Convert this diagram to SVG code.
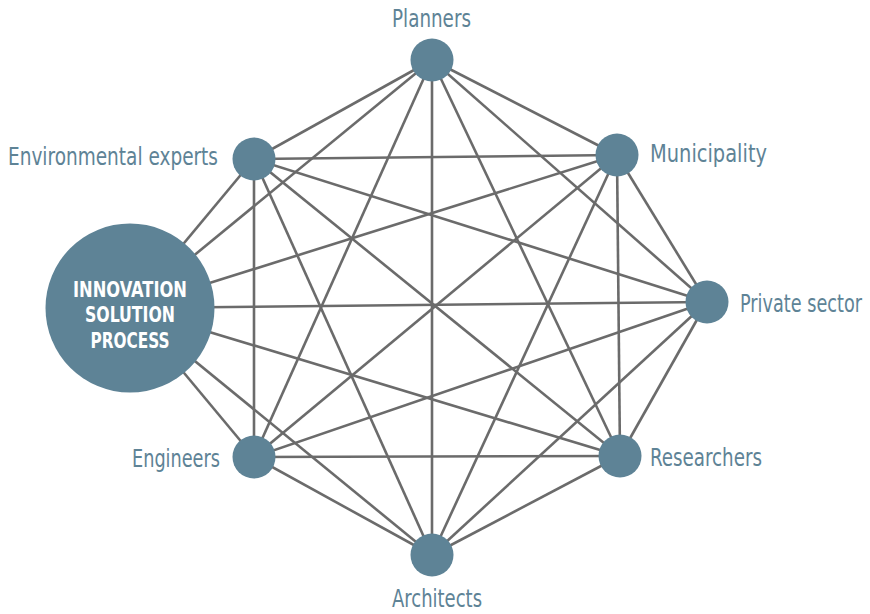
<svg xmlns="http://www.w3.org/2000/svg" width="870" height="614" viewBox="0 0 870 614">
<style>
.e{stroke:#6b6b6b;stroke-width:2.6;fill:none}
.n{fill:#5e8396}
.l{font-family:"DejaVu Sans Condensed","DejaVu Sans",sans-serif;font-stretch:condensed;font-size:24px;fill:#5e8396}
.c{font-family:"DejaVu Sans Condensed","DejaVu Sans",sans-serif;font-stretch:condensed;font-weight:bold;font-size:22px;fill:#ffffff;text-anchor:middle}
</style>
<rect width="870" height="614" fill="#ffffff"/>
<g id="connectors">
<line class="e" x1="130" y1="308" x2="432" y2="60"/>
<line class="e" x1="130" y1="308" x2="617" y2="155"/>
<line class="e" x1="130" y1="308" x2="707" y2="302"/>
<line class="e" x1="130" y1="308" x2="620" y2="456"/>
<line class="e" x1="130" y1="308" x2="432" y2="555"/>
<line class="e" x1="130" y1="308" x2="254" y2="457"/>
<line class="e" x1="130" y1="308" x2="254" y2="159"/>
<line class="e" x1="254" y1="159" x2="432" y2="60"/>
<line class="e" x1="254" y1="159" x2="617" y2="155"/>
<line class="e" x1="254" y1="159" x2="707" y2="302"/>
<line class="e" x1="254" y1="159" x2="620" y2="456"/>
<line class="e" x1="254" y1="159" x2="432" y2="555"/>
<line class="e" x1="254" y1="159" x2="254" y2="457"/>
<line class="e" x1="432" y1="60" x2="617" y2="155"/>
<line class="e" x1="432" y1="60" x2="707" y2="302"/>
<line class="e" x1="432" y1="60" x2="620" y2="456"/>
<line class="e" x1="432" y1="60" x2="432" y2="555"/>
<line class="e" x1="432" y1="60" x2="254" y2="457"/>
<line class="e" x1="617" y1="155" x2="707" y2="302"/>
<line class="e" x1="617" y1="155" x2="620" y2="456"/>
<line class="e" x1="617" y1="155" x2="432" y2="555"/>
<line class="e" x1="617" y1="155" x2="254" y2="457"/>
<line class="e" x1="707" y1="302" x2="620" y2="456"/>
<line class="e" x1="707" y1="302" x2="432" y2="555"/>
<line class="e" x1="707" y1="302" x2="254" y2="457"/>
<line class="e" x1="620" y1="456" x2="432" y2="555"/>
<line class="e" x1="620" y1="456" x2="254" y2="457"/>
<line class="e" x1="432" y1="555" x2="254" y2="457"/>
</g>
<g id="innovation">
<circle class="n" cx="130" cy="308" r="84.5"/>
<text class="c" x="130" y="297" textLength="114" lengthAdjust="spacingAndGlyphs">INNOVATION</text>
<text class="c" x="130" y="322" textLength="90" lengthAdjust="spacingAndGlyphs">SOLUTION</text>
<text class="c" x="130" y="348" textLength="79" lengthAdjust="spacingAndGlyphs">PROCESS</text>
</g>
<g id="planners">
<circle class="n" cx="432" cy="60" r="21.5"/>
<text class="l" x="392" y="27" textLength="79" lengthAdjust="spacingAndGlyphs">Planners</text>
</g>
<g id="municipality">
<circle class="n" cx="617" cy="155" r="21.5"/>
<text class="l" x="650" y="162" textLength="117" lengthAdjust="spacingAndGlyphs">Municipality</text>
</g>
<g id="private-sector">
<circle class="n" cx="707" cy="302" r="21.5"/>
<text class="l" transform="translate(740,312) scale(0.76,1)" x="0" y="0" textLength="160.5" lengthAdjust="spacingAndGlyphs">Private sector</text>
</g>
<g id="researchers">
<circle class="n" cx="620" cy="456" r="21.5"/>
<text class="l" x="650" y="466" textLength="112" lengthAdjust="spacingAndGlyphs">Researchers</text>
</g>
<g id="architects">
<circle class="n" cx="432" cy="555" r="21.5"/>
<text class="l" x="392" y="607" textLength="90" lengthAdjust="spacingAndGlyphs">Architects</text>
</g>
<g id="engineers">
<circle class="n" cx="254" cy="457" r="21.5"/>
<text class="l" x="132" y="467" textLength="88" lengthAdjust="spacingAndGlyphs">Engineers</text>
</g>
<g id="environmental-experts">
<circle class="n" cx="254" cy="159" r="21.5"/>
<text class="l" x="8" y="165" textLength="210" lengthAdjust="spacingAndGlyphs">Environmental experts</text>
</g>
</svg>
